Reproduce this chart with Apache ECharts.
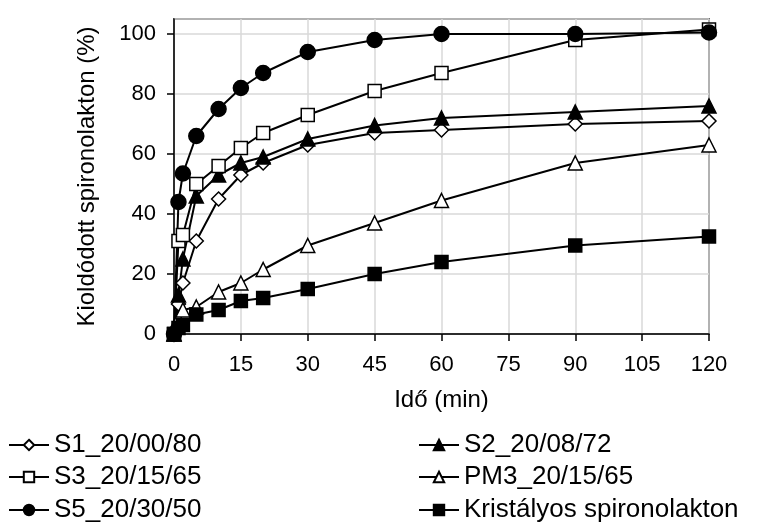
<!DOCTYPE html>
<html>
<head>
<meta charset="utf-8">
<script src="https://cdn.jsdelivr.net/npm/echarts@6/dist/echarts.min.js"></script>
<style>html,body{margin:0;padding:0;background:#fff}#c{width:777px;height:530px}</style>
</head>
<body>
<div id="c"></div>
<script>
const times = [0, 1, 2, 5, 10, 15, 20, 30, 45, 60, 90, 120];
const s1 = [0, 10, 17, 31, 45, 53, 57, 63, 67, 68, 70, 71];
const s2 = [0, 13, 25, 46, 53, 57, 59, 65, 69.5, 72, 74, 76];
const s3 = [0, 31, 33, 50, 56, 62, 67, 73, 81, 87, 98, 101.5];
const pm3 = [0, 5, 8, 9, 14, 17, 21.5, 29.5, 37, 44.5, 57, 63];
const s5 = [0, 44, 53.5, 66, 75, 82, 87, 94, 98, 100, 100, 100.5];
const kr = [0, 2, 3, 6.5, 8, 11, 12, 15, 20, 24, 29.5, 32.5];
const names = ['S1_20/00/80', 'S2_20/08/72', 'S3_20/15/65', 'PM3_20/15/65', 'S5_20/30/50', 'Kristályos spironolakton'];

const FONT = 'Liberation Sans, Arial, sans-serif';
function pairs(v) { return times.map((t, i) => [t, v[i]]); }
function ser(name, vals, symbol, size, filled) {
  return {
    name: name, type: 'line', data: pairs(vals), symbol: symbol, symbolSize: size,
    showAllSymbol: true,
    lineStyle: { color: '#000', width: 2 },
    itemStyle: { color: filled ? '#000' : '#fff', borderColor: '#000', borderWidth: 1.5 },
    emphasis: { disabled: true }, animation: false
  };
}
const legText = { fontFamily: FONT, fontSize: 26, color: '#000' };
const legPos = [[8, 432], [418, 432], [8, 464], [418, 464], [8, 497], [418, 497]];
const legends = names.map((n, i) => ({
  data: [n], orient: 'horizontal', left: legPos[i][0], top: legPos[i][1],
  itemWidth: 40, itemHeight: 13, textStyle: legText, selectedMode: false, padding: 0
}));
const chart = echarts.init(document.getElementById('c'));
chart.setOption({
  animation: false,
  grid: { left: 174, right: 68, top: 19, bottom: 196, show: true, borderColor: '#000', borderWidth: 1.5, backgroundColor: 'transparent' },
  xAxis: {
    type: 'value', min: 0, max: 120, interval: 15,
    name: 'Idő (min)', nameLocation: 'middle', nameGap: 54,
    nameTextStyle: { fontFamily: FONT, fontSize: 24, color: '#000' },
    axisLine: { lineStyle: { color: '#000', width: 1.5 } },
    axisTick: { show: true, length: 7, lineStyle: { color: '#000', width: 1.5 } },
    axisLabel: { fontFamily: FONT, fontSize: 22, color: '#000', margin: 20 },
    splitLine: { show: true, lineStyle: { color: '#d9d9d9', width: 1.5 } }
  },
  yAxis: {
    type: 'value', min: 0, max: 105, interval: 20,
    name: 'Kioldódott spironolakton (%)', nameLocation: 'middle', nameGap: 75,
    nameTextStyle: { fontFamily: FONT, fontSize: 24, color: '#000' },
    axisLine: { lineStyle: { color: '#000', width: 1.5 } },
    axisTick: { show: true, length: 7, lineStyle: { color: '#000', width: 1.5 } },
    axisLabel: { fontFamily: FONT, fontSize: 22, color: '#000', margin: 18, showMaxLabel: false },
    splitLine: { show: true, lineStyle: { color: '#d9d9d9', width: 1.5 } }
  },
  legend: legends,
  series: [
    ser(names[0], s1, 'diamond', 14, false),
    ser(names[1], s2, 'triangle', 14, true),
    ser(names[2], s3, 'rect', 13, false),
    ser(names[3], pm3, 'triangle', 14, false),
    ser(names[4], s5, 'circle', 15, true),
    ser(names[5], kr, 'rect', 13, true)
  ]
});
</script>
</body>
</html>
